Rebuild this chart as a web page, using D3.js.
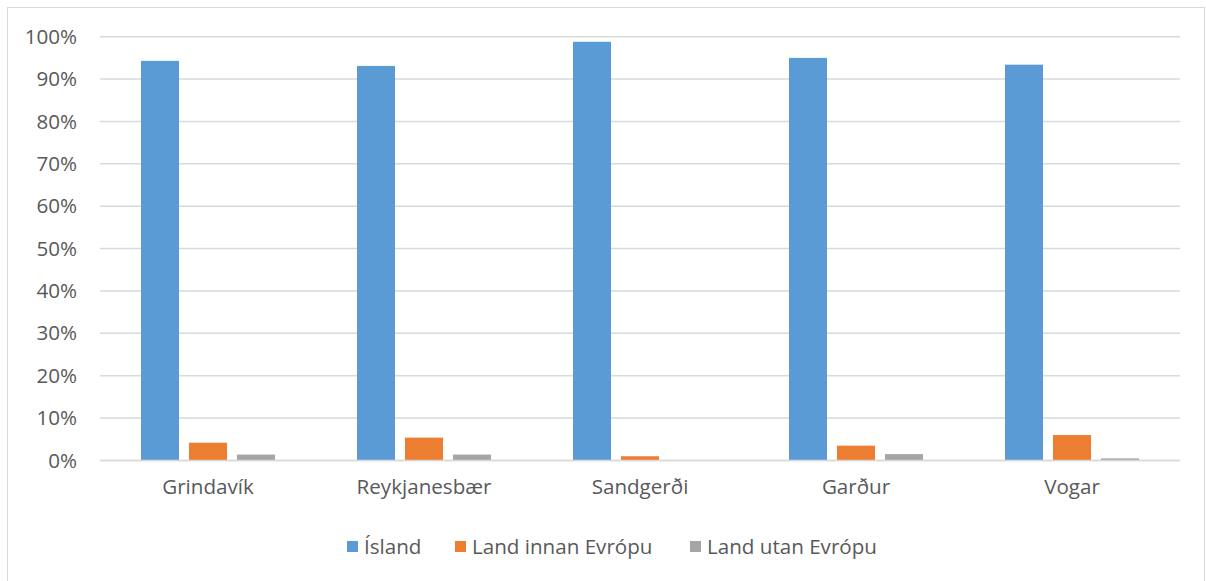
<!DOCTYPE html>
<html><head><meta charset="utf-8">
<script src="https://cdn.jsdelivr.net/npm/d3@7"></script>
<style>body{margin:0;background:#fff;}svg{display:block;}</style>
</head><body>
<svg id="c" width="1206" height="581"></svg>
<script>
const categories = ["Grindavík", "Reykjanesbær", "Sandgerði", "Garður", "Vogar"];
const seriesNames = ["Ísland", "Land innan Evrópu", "Land utan Evrópu"];
const island = [94.3, 93.1, 98.8, 95.0, 93.4];
const innanEvropu = [4.2, 5.4, 1.0, 3.5, 6.0];
const utanEvropu = [1.4, 1.4, 0.0, 1.5, 0.5];
const yTicks = [0, 10, 20, 30, 40, 50, 60, 70, 80, 90, 100];
const colors = ["#5b9bd5", "#ed7d31", "#a5a5a5"];

const seriesValues = [island, innanEvropu, utanEvropu];
const font = "'Open Sans', sans-serif";
const fs = 20.6;
const svg = d3.select("#c");

svg.append("rect").attr("x", 7.5).attr("y", 7.5).attr("width", 1197).attr("height", 580)
  .attr("fill", "none").attr("stroke", "#d9d9d9");

const mLeft = 100, mRight = 1180, mTop = 36.7, mBottom = 460.5;
const x0 = d3.scaleBand().domain(categories).range([mLeft, mRight]).padding(0);
const x1 = d3.scaleBand().domain(seriesNames).range([-72, 72]).paddingInner(10/48).paddingOuter(5/48);
const y = d3.scaleLinear().domain([0, 100]).range([mBottom, mTop]);

// gridlines
svg.append("g").selectAll("line").data(yTicks).join("line")
  .attr("x1", mLeft).attr("x2", mRight)
  .attr("y1", d => y(d)).attr("y2", d => y(d))
  .attr("stroke", "#d9d9d9").attr("stroke-width", 1.5);

// y labels
const yAxis = d3.axisLeft(y).tickValues(yTicks).tickFormat(d => d + "%").tickSize(0).tickPadding(0);
const gy = svg.append("g").attr("transform", `translate(${77},0)`).call(yAxis);
gy.select(".domain").remove();
gy.selectAll("text").attr("font-family", font).attr("font-size", fs).attr("fill", "#595959");

// bars
const groups = svg.append("g").selectAll("g").data(categories).join("g")
  .attr("transform", d => `translate(${x0(d) + x0.bandwidth()/2},0)`);
groups.selectAll("rect").data((c, i) => seriesNames.map((s, j) => ({s, v: seriesValues[j][i], j})))
  .join("rect")
  .attr("x", d => x1(d.s)).attr("width", x1.bandwidth())
  .attr("y", d => y(d.v)).attr("height", d => y(0) - y(d.v))
  .attr("fill", d => colors[d.j]);

// baseline
svg.append("line").attr("x1", mLeft).attr("x2", mRight).attr("y1", y(0)).attr("y2", y(0))
  .attr("stroke", "#d9d9d9").attr("stroke-width", 1.5);

// x labels
const xAxis = d3.axisBottom(x0).tickSize(0).tickPadding(0);
const gx = svg.append("g").attr("transform", `translate(0,${mBottom + 19})`).call(xAxis);
gx.select(".domain").remove();
gx.selectAll("text").attr("font-family", font).attr("font-size", fs).attr("fill", "#595959");

// legend
const legendX = [347, 455, 690];
const lg = svg.append("g").selectAll("g").data(seriesNames).join("g")
  .attr("transform", (d, i) => `translate(${legendX[i]},541)`);
lg.append("rect").attr("width", 11).attr("height", 11).attr("fill", (d, i) => colors[i]);
lg.append("text").attr("x", 17).attr("y", 5.5).attr("dy", "0.35em")
  .attr("font-family", font).attr("font-size", fs).attr("fill", "#595959").text(d => d);
</script>
</body></html>
